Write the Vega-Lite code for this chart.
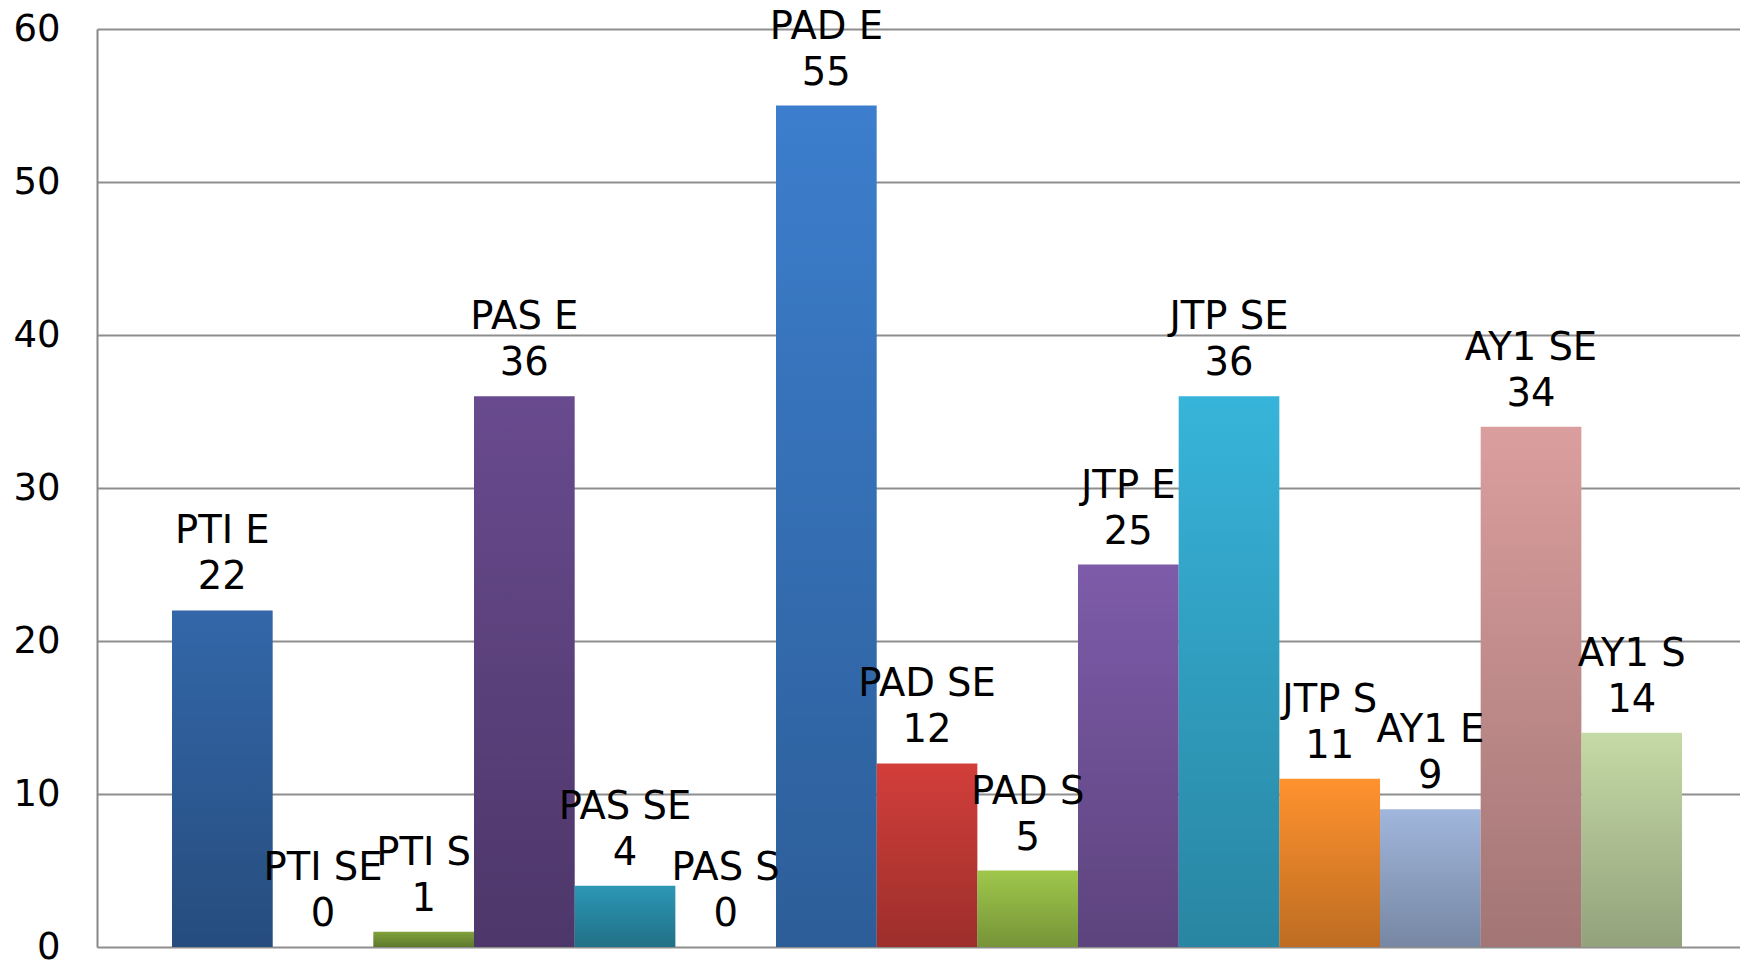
{
  "$schema": "https://vega.github.io/schema/vega-lite/v6.json",
  "width": 1643,
  "height": 918,
  "autosize": {"type": "none"},
  "padding": {"left": 97, "top": 29, "right": 0, "bottom": 13},
  "background": "white",
  "config": {"view": {"stroke": null}, "font": "DejaVu Sans"},
  "data": {
    "values": [
      {"name": "PTI E", "value": 22},
      {"name": "PTI SE", "value": 0},
      {"name": "PTI S", "value": 1},
      {"name": "PAS E", "value": 36},
      {"name": "PAS SE", "value": 4},
      {"name": "PAS S", "value": 0},
      {"name": "PAD E", "value": 55},
      {"name": "PAD SE", "value": 12},
      {"name": "PAD S", "value": 5},
      {"name": "JTP E", "value": 25},
      {"name": "JTP SE", "value": 36},
      {"name": "JTP S", "value": 11},
      {"name": "AY1 E", "value": 9},
      {"name": "AY1 SE", "value": 34},
      {"name": "AY1 S", "value": 14}
    ]
  },
  "encoding": {
    "x": {
      "field": "name",
      "type": "nominal",
      "sort": null,
      "scale": {"paddingInner": 0, "paddingOuter": 0.6605, "align": 0.564},
      "axis": null
    },
    "y": {
      "field": "value",
      "type": "quantitative",
      "scale": {"domain": [0, 60], "nice": false},
      "axis": {
        "title": null,
        "values": [0, 10, 20, 30, 40, 50, 60],
        "grid": true,
        "gridColor": "#8E8E8E",
        "gridWidth": 2,
        "domainColor": "#888888",
        "domainWidth": 2,
        "ticks": false,
        "labelPadding": 37,
        "labelFontSize": 37,
        "labelColor": "#000000",
        "labelFont": "DejaVu Sans"
      }
    }
  },
  "layer": [
    {
      "mark": {"type": "bar"},
      "encoding": {
        "color": {
          "field": "name",
          "type": "nominal",
          "legend": null,
          "scale": {
            "domain": ["PTI E", "PTI SE", "PTI S", "PAS E", "PAS SE", "PAS S", "PAD E", "PAD SE", "PAD S", "JTP E", "JTP SE", "JTP S", "AY1 E", "AY1 SE", "AY1 S"],
            "range": ["#3367A9", "#C0504D", "#80A23C", "#684A8E", "#2C97B5", "#F79646", "#3C7ECD", "#D23E3A", "#9FC74B", "#7D5BA9", "#37B4DA", "#FF922E", "#A0B6DC", "#DB9E9E", "#C5DAA6"]
          }
        }
      }
    },
    {
      "mark": {
        "type": "bar",
        "color": {
          "gradient": "linear",
          "x1": 0, "y1": 0, "x2": 0, "y2": 1,
          "stops": [
            {"offset": 0, "color": "rgba(0,0,0,0)"},
            {"offset": 1, "color": "rgba(0,0,0,0.26)"}
          ]
        }
      }
    },
    {
      "mark": {"type": "text", "dy": -21, "baseline": "alphabetic", "fontSize": 38.5, "font": "DejaVu Sans", "color": "#000000"},
      "encoding": {"text": {"field": "value", "type": "quantitative"}}
    },
    {
      "mark": {"type": "text", "dy": -67, "baseline": "alphabetic", "fontSize": 38.5, "font": "DejaVu Sans", "color": "#000000"},
      "encoding": {"text": {"field": "name", "type": "nominal"}}
    }
  ]
}
